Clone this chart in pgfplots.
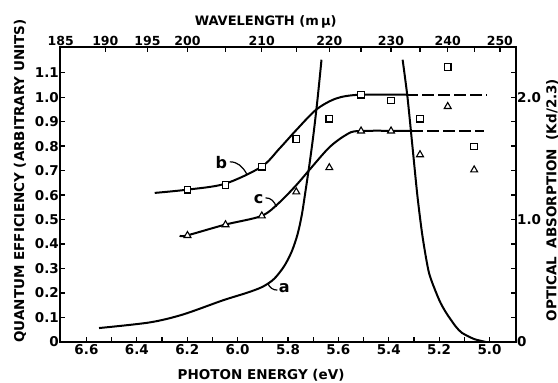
\documentclass[border=0pt]{standalone}
\usepackage{fontspec}
\setmainfont{DejaVu Sans}
\usepackage{pgfplots}
\pgfplotsset{compat=1.18}
\begin{document}
\begin{tikzpicture}
\path[use as bounding box] (-60pt,-41pt) rectangle (498pt,342pt);
\begin{axis}[
  at={(0pt,0pt)}, anchor=south west,
  scale only axis, width=456pt, height=295pt,
  x dir=reverse, xmin=4.895, xmax=6.705,
  ymin=0, ymax=1.205,
  axis line style={line width=1.8pt},
  xtick pos=bottom, ytick pos=left,
  xtick={5.0,5.2,5.4,5.6,5.8,6.0,6.2,6.4,6.6},
  xticklabels={5.0,5.2,5.4,5.6,5.8,6.0,6.2,6.4,6.6},
  minor xtick={5.1,5.3,5.5,5.7,5.9,6.1,6.3,6.5},
  ytick={0,0.1,0.2,0.3,0.4,0.5,0.6,0.7,0.8,0.9,1.0,1.1},
  yticklabels={0,0.1,0.2,0.3,0.4,0.5,0.6,0.7,0.8,0.9,1.0,1.1},
  major tick length=5pt, minor tick length=5pt,
  tick style={line width=1.3pt, black},
  ticklabel style={font=\fontsize{13.5}{15}\selectfont\bfseries},
  yticklabel style={inner sep=1pt},
  xticklabel style={inner sep=2pt},
  /pgf/number format/assume math mode=true,
  clip=false,
]
% curve a (optical absorption)
\addplot[line width=2pt, smooth, tension=0.5] coordinates {
 (6.550,0.057) (6.349,0.080) (6.218,0.112) (6.059,0.170) (5.960,0.202)
 (5.900,0.226) (5.855,0.258) (5.815,0.310) (5.785,0.370) (5.762,0.440)
 (5.745,0.520) (5.730,0.620) (5.715,0.724)
 (5.699,0.847) (5.683,0.990) (5.667,1.153)};
\addplot[line width=2pt, smooth, tension=0.4] coordinates {
 (5.345,1.153) (5.326,1.003) (5.306,0.799) (5.286,0.594) (5.266,0.431)
 (5.240,0.281) (5.200,0.172) (5.172,0.119) (5.134,0.063) (5.109,0.037)
 (5.061,0.012) (5.014,0.0)};
% curve b
\addplot[line width=2pt, smooth, tension=0.5] coordinates {
 (6.329,0.609) (6.202,0.622) (6.051,0.646) (5.905,0.716) (5.834,0.790)
 (5.766,0.867) (5.687,0.950) (5.608,0.995) (5.517,1.010) (5.331,1.010)};
\addplot[line width=2pt, dash pattern=on 12pt off 4pt] coordinates {
 (5.331,1.010) (5.010,1.010)};
% curve c
\addplot[line width=2pt, smooth, tension=0.5] coordinates {
 (6.230,0.434) (6.202,0.435) (6.051,0.479) (5.905,0.515) (5.834,0.570)
 (5.766,0.642) (5.715,0.703) (5.636,0.795) (5.568,0.847) (5.517,0.862) (5.311,0.862)};
\addplot[line width=2pt, dash pattern=on 12pt off 4pt] coordinates {
 (5.311,0.862) (5.022,0.862)};
% squares (b)
\addplot[only marks, mark=square*, mark size=3.3pt, mark options={fill=white, line width=1.1pt, draw=black}] coordinates {
 (6.199,0.622) (6.048,0.642) (5.904,0.716) (5.767,0.829) (5.636,0.912)
 (5.510,1.010) (5.391,0.986) (5.276,0.912) (5.166,1.123) (5.061,0.799)};
% triangles (c)
\addplot[only marks, mark=triangle*, mark size=4pt, mark options={fill=white, line width=1.1pt, draw=black}] coordinates {
 (6.199,0.435) (6.048,0.479) (5.904,0.515) (5.767,0.613) (5.636,0.712)
 (5.510,0.862) (5.391,0.862) (5.276,0.765) (5.166,0.962) (5.061,0.703)};
% curve labels and leaders
\draw[line width=1.2pt] (axis cs:5.964,0.687) to[out=120,in=0] (axis cs:6.031,0.736);
\node[font=\fontsize{16}{18}\selectfont\bfseries] at (axis cs:6.065,0.732) {b};
\draw[line width=1.2pt] (axis cs:5.846,0.552) to[out=110,in=0] (axis cs:5.889,0.589);
\node[font=\fontsize{16}{18}\selectfont\bfseries] at (axis cs:5.917,0.585) {c};
\draw[line width=1.2pt] (axis cs:5.880,0.240) to[out=-70,in=180] (axis cs:5.842,0.212);
\node[font=\fontsize{16}{18}\selectfont\bfseries] at (axis cs:5.815,0.218) {a};
% axis titles
\node[font=\fontsize{13.5}{15}\selectfont\bfseries] at (axis description cs:0.441,-0.112) {PHOTON ENERGY (eV)};
\node[font=\fontsize{13.5}{15}\selectfont\bfseries, rotate=90] at (axis description cs:-0.0877,0.546) {QUANTUM EFFICIENCY (ARBITRARY UNITS)};
\node[font=\fontsize{13.5}{15}\selectfont\bfseries, rotate=90] at (axis description cs:1.079,0.481) {OPTICAL\hspace{4pt} ABSORPTION\hspace{4pt} (Kd/2.3)};
\node[font=\fontsize{13}{15}\selectfont\bfseries] at (axis description cs:0.451,1.085) {WAVELENGTH (m\,μ)};
\end{axis}
\begin{axis}[
  at={(0pt,0pt)}, anchor=south west,
  scale only axis, width=456pt, height=295pt,
  x dir=reverse, xmin=4.895, xmax=6.705,
  ymin=0, ymax=2.41,
  axis line style={draw=none},
  xtick pos=top, ytick pos=right,
  xticklabel pos=top, yticklabel pos=right,
  xtick={6.702,6.525,6.358,6.199,5.904,5.636,5.391,5.166,4.959},
  xticklabels={185,190,195,200,210,220,230,240,250},
  minor xtick={6.048,5.767,5.510,5.276,5.061},
  ytick={0,1,2},
  yticklabels={0,1.0,2.0},
  minor ytick={0.2,0.4,0.6,0.8,1.2,1.4,1.6,1.8,2.2},
  major tick length=5pt, minor tick length=5pt,
  tick style={line width=1.3pt, black},
  xticklabel style={font=\fontsize{12.5}{14}\selectfont\bfseries, inner sep=1pt},
  yticklabel style={font=\fontsize{13.5}{15}\selectfont\bfseries, inner sep=1pt},
]
\end{axis}
\end{tikzpicture}
\end{document}
